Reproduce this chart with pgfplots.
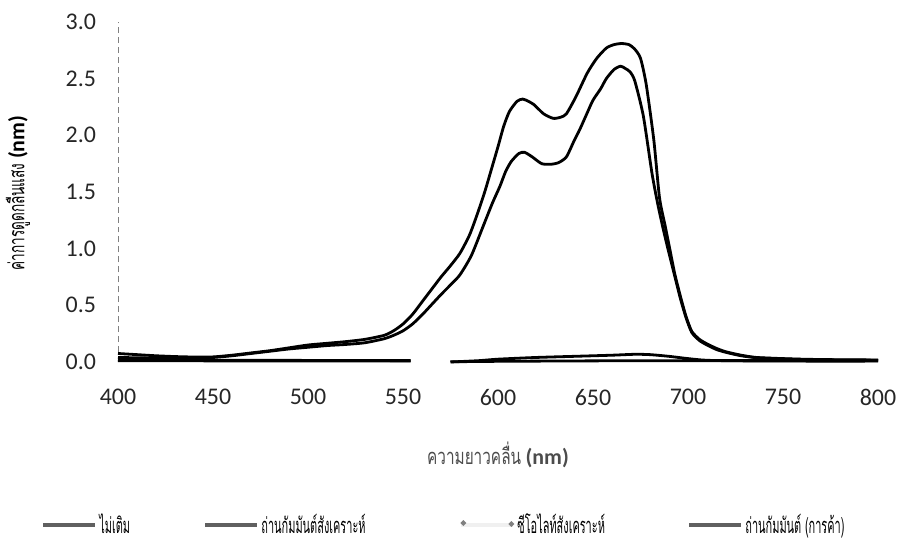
\documentclass[border=0pt]{standalone}
\usepackage{pgfplots}
\pgfplotsset{compat=1.18}
\usepackage{pgfplotstable}
\usepackage{fontspec}
\usepackage{graphicx}
\setmainfont{Carlito}
\newfontfamily\thaifont[Script=Thai]{Loma}
\newcommand{\thx}[1]{\scalebox{0.62}[1]{\thaifont #1}}
\newcommand{\thl}[1]{\scalebox{0.5}[1]{\thaifont #1}}
\newcommand{\thxl}[1]{\scalebox{0.7}[1]{\thaifont #1}}

\pgfplotstableread{
x y
400 0.075
410 0.065
420 0.055
430 0.048
440 0.044
450 0.045
460 0.060
470 0.080
480 0.100
490 0.125
500 0.150
510 0.165
520 0.180
530 0.200
540 0.235
545 0.275
550 0.335
555 0.420
560 0.530
565 0.640
570 0.750
575 0.850
580 0.960
585 1.120
589 1.300
593 1.500
596 1.670
600 1.900
603 2.080
606 2.210
610 2.300
613 2.320
616 2.300
619 2.270
624 2.190
629 2.150
633 2.160
636 2.190
641 2.340
647 2.550
652 2.680
657 2.770
661 2.800
665 2.810
669 2.800
672 2.760
675 2.680
678 2.450
682 1.960
685 1.450
688 1.200
690.5 0.990
693 0.780
696 0.580
699 0.400
702 0.270
706 0.200
710 0.160
715 0.120
720 0.090
728 0.060
736 0.040
750 0.030
762 0.024
780 0.020
800 0.018
}\tblA

\pgfplotstableread{
x y
400 0.040
420 0.035
440 0.035
450 0.040
460 0.055
470 0.075
480 0.095
490 0.115
500 0.130
510 0.145
520 0.155
530 0.170
540 0.205
545 0.235
550 0.275
555 0.335
560 0.415
565 0.505
570 0.595
575 0.680
580 0.770
586 0.940
592 1.190
597 1.400
601 1.550
604 1.680
607 1.770
611 1.840
614 1.850
618 1.810
623 1.750
628 1.745
632 1.760
636 1.810
640 1.950
643 2.050
647 2.200
650 2.310
654 2.410
657 2.500
661 2.580
664.5 2.610
667 2.590
669.5 2.560
672 2.480
676.5 2.170
681 1.670
684 1.400
687 1.170
690 0.960
693 0.760
696 0.560
699 0.390
702 0.260
706 0.190
710 0.150
715 0.110
720 0.085
728 0.055
736 0.038
750 0.028
762 0.022
780 0.018
800 0.016
}\tblB

\pgfplotstableread{
x y
400 0.020
425 0.018
450 0.016
475 0.015
500 0.014
525 0.013
554 0.012
556 nan
575 0.002
600 0.006
650 0.010
700 0.012
750 0.012
800 0.012
}\tblC

\pgfplotstableread{
x y
400 0.012
450 0.010
500 0.009
554 0.008
556 nan
575 0.000
590 0.012
600 0.025
620 0.040
640 0.050
660 0.060
672 0.068
680 0.065
690 0.050
700 0.030
710 0.015
730 0.010
760 0.008
800 0.008
}\tblD

\begin{document}
\begin{tikzpicture}
\path[use as bounding box] (-59bp,-90.5bp) rectangle (392.5bp,181bp);
\begin{axis}[
  at={(0,0)}, anchor=south west,
  scale only axis,
  width=380bp, height=170bp,
  xmin=400, xmax=800, ymin=0, ymax=3,
  clip=false,
  unbounded coords=jump,
  axis lines*=left,
  x axis line style={draw=none},
  y axis line style={draw=gray, densely dashed, line width=0.4bp, -},
  major tick length=0pt,
  xtick={400,450,...,800},
  ytick={0,0.5,1,1.5,2,2.5,3},
  /pgf/number format/assume math mode=true,
  yticklabel style={/pgf/number format/.cd, fixed, fixed zerofill, precision=1},
  xticklabel style={/pgf/number format/.cd, fixed, precision=0},
  tick label style={font=\fontsize{12}{14}\selectfont, text=black!85},
  yticklabel shift=7.5bp,
  xticklabel shift=10bp,
  every axis y label/.style={at={(axis description cs:-0.1316,0.497)}, rotate=90, anchor=center},
  every axis x label/.style={at={(axis description cs:0.5,-0.2735)}, anchor=center, text=black!70},
  ylabel={\thx{\fontsize{11}{13}\selectfont ค่าการดูดกลืนแสง} {\fontsize{11}{13}\selectfont\bfseries (nm)}},
  xlabel={\thxl{\fontsize{11}{13}\selectfont ความยาวคลื่น} {\fontsize{11}{13}\selectfont\bfseries (nm)}},
  legend columns=4,
  legend cell align=left,
  legend style={draw=none, fill=none, at={(-0.1092,-0.4794)}, anchor=west,
    font=\fontsize{11}{13}\selectfont, column sep=0pt,
    nodes={inner sep=1bp}},
]
\addplot[black, line width=1.4bp, smooth, tension=0.4,
  legend image code/.code={\draw[draw=gray!75!black, line width=2bp] (0bp,0bp) -- (26bp,0bp);}]
  table[x=x, y=y] {\tblA};
\addlegendentry{\makebox[51bp][l]{\thl{ไม่เติม}}}
\addplot[black, line width=1.4bp, smooth, tension=0.4,
  legend image code/.code={\draw[draw=gray!75!black, line width=2bp] (0bp,0bp) -- (26bp,0bp);}]
  table[x=x, y=y] {\tblC};
\addlegendentry{\makebox[98bp][l]{\thl{ถ่านกัมมันต์สังเคราะห์}}}
\addplot[black, line width=1.4bp, smooth, tension=0.4,
  legend image code/.code={\draw[draw=gray!12, line width=2bp] (0bp,0bp) -- (26bp,0bp); \fill[gray] (1bp,1bp) circle (0.5bp); \fill[gray] (25bp,0.5bp) circle (0.5bp);}]
  table[x=x, y=y] {\tblB};
\addlegendentry{\makebox[84bp][l]{\thl{ซีโอไลท์สังเคราะห์}}}
\addplot[black, line width=1.4bp, smooth, tension=0.4,
  legend image code/.code={\draw[draw=gray!75!black, line width=2bp] (0bp,0bp) -- (26bp,0bp);}]
  table[x=x, y=y] {\tblD};
\addlegendentry{\thl{ถ่านกัมมันต์ (การค้า)}}
\end{axis}
\end{tikzpicture}
\end{document}
